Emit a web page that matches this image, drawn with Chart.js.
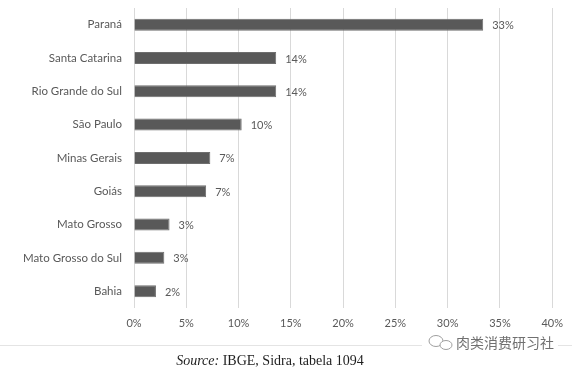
<!DOCTYPE html>
<html>
<head>
<meta charset="utf-8">
<script src="https://cdn.jsdelivr.net/npm/chart.js@4.4.1/dist/chart.umd.min.js"></script>
<style>
  html, body { margin: 0; padding: 0; background: #ffffff; }
  #wrap { position: relative; width: 572px; height: 371px; }
  canvas { display: block; }
</style>
</head>
<body>
<div id="wrap"><canvas id="c" width="572" height="371"></canvas></div>
<script>
const categories = ["Paraná", "Santa Catarina", "Rio Grande do Sul", "São Paulo", "Minas Gerais", "Goiás", "Mato Grosso", "Mato Grosso do Sul", "Bahia"];
const shares = [33.4, 13.6, 13.6, 10.3, 7.3, 6.9, 3.4, 2.9, 2.1];
const shareLabels = ["33%", "14%", "14%", "10%", "7%", "7%", "3%", "3%", "2%"];
const xTicks = [0, 5, 10, 15, 20, 25, 30, 35, 40];
const sourceItalic = "Source:";
const sourceRest = " IBGE, Sidra, tabela 1094";
const watermark = "肉类消费研习社";

const labelFont = "Lato, 'Open Sans', sans-serif";

const valueLabels = {
  id: 'valueLabels',
  afterDatasetsDraw(chart) {
    const ctx = chart.ctx;
    const meta = chart.getDatasetMeta(0);
    ctx.save();
    ctx.font = "11px " + labelFont;
    ctx.fillStyle = "#595959";
    ctx.textAlign = "left";
    ctx.textBaseline = "middle";
    meta.data.forEach((bar, i) => {
      ctx.fillText(shareLabels[i], bar.x + 9, bar.y + 1);
    });
    ctx.restore();
  }
};

const footer = {
  id: 'footer',
  afterDraw(chart) {
    const ctx = chart.ctx;
    ctx.save();
    ctx.strokeStyle = "#e4e4e4";
    ctx.lineWidth = 1;
    ctx.beginPath();
    ctx.moveTo(0, 345.5);
    ctx.lineTo(572, 345.5);
    ctx.stroke();
    ctx.textBaseline = "alphabetic";
    ctx.fillStyle = "#1e1e1e";
    const serif = "'Liberation Serif', 'DejaVu Serif', serif";
    ctx.font = "italic 14px " + serif;
    const w1 = ctx.measureText(sourceItalic).width;
    ctx.font = "14px " + serif;
    const w2 = ctx.measureText(sourceRest).width;
    const x0 = 270 - (w1 + w2) / 2;
    ctx.font = "italic 14px " + serif;
    ctx.fillText(sourceItalic, x0, 365);
    ctx.font = "14px " + serif;
    ctx.fillText(sourceRest, x0 + w1, 365);
    ctx.font = "14px 'Noto Sans CJK SC', sans-serif";
    ctx.textBaseline = "middle";
    ctx.fillStyle = "#ffffff";
    ctx.fillRect(422, 334, 136, 18);
    ctx.fillStyle = "#707070";
    ctx.fillText(watermark, 456, 343);
    ctx.strokeStyle = "#a0a0a0";
    ctx.lineWidth = 1;
    ctx.beginPath();
    ctx.ellipse(436, 341, 7, 5.5, 0, 0, Math.PI * 2);
    ctx.stroke();
    ctx.beginPath();
    ctx.ellipse(446, 345, 6, 4.5, 0, 0, Math.PI * 2);
    ctx.fillStyle = "#ffffff";
    ctx.fill();
    ctx.stroke();
    ctx.restore();
  }
};

new Chart(document.getElementById('c'), {
  type: 'bar',
  data: {
    labels: categories,
    datasets: [{
      data: shares,
      backgroundColor: "#595959",
      borderColor: "#6e6e6e",
      borderWidth: 1,
      barPercentage: 0.36,
      categoryPercentage: 1.0
    }]
  },
  options: {
    indexAxis: 'y',
    responsive: false,
    animation: false,
    devicePixelRatio: 1,
    layout: { padding: { top: 8, right: 19, bottom: 32, left: 0 } },
    plugins: {
      legend: { display: false },
      tooltip: { enabled: false }
    },
    scales: {
      x: {
        min: 0,
        max: 40,
        afterBuildTicks(scale) { scale.ticks = xTicks.map(v => ({ value: v })); },
        grid: { color: "#d9d9d9", lineWidth: 1, drawTicks: false },
        border: { display: false },
        ticks: {
          padding: 9,
          color: "#595959",
          font: { family: labelFont, size: 11 },
          callback: (v) => v + "%"
        }
      },
      y: {
        afterFit(scale) { scale.width = 134; scale.paddingTop = 0; scale.paddingBottom = 0; },
        grid: { display: false, drawTicks: false },
        border: { display: false },
        ticks: {
          padding: 12,
          color: "#595959",
          font: { family: labelFont, size: 11.5 }
        }
      }
    }
  },
  plugins: [valueLabels, footer]
});
</script>
</body>
</html>
